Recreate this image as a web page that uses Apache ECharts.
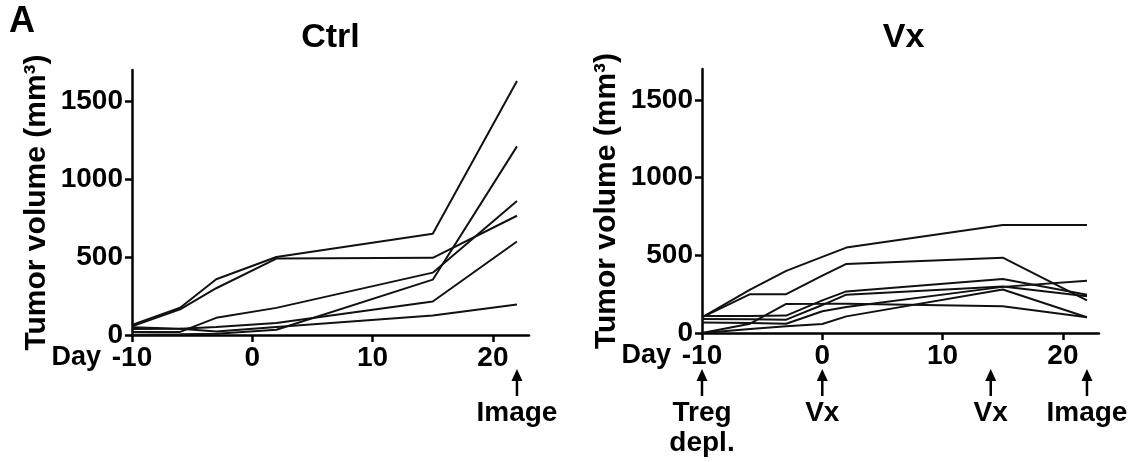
<!DOCTYPE html>
<html>
<head>
<meta charset="utf-8">
<script src="https://cdn.jsdelivr.net/npm/echarts@6/dist/echarts.min.js"></script>
<style>
html, body { margin: 0; padding: 0; background: #fff; }
#main { width: 1132px; height: 462px; }
</style>
</head>
<body>
<div id="main"></div>
<script>
// Ctrl group, one array per mouse
var ctrlDays = [-10, -6, -3, 2, 15, 22];
var ctrl1 = [65, 175, 358, 500, 650, 1630];
var ctrl2 = [55, 165, 300, 490, 495, 765];
var ctrl3 = [2, 5, 8, 34, 355, 1210];
var ctrl4 = [19, 20, 110, 174, 400, 860];
var ctrl5 = [39, 40, 51, 77, 215, 600];
var ctrl6 = [49, 40, 23, 51, 125, 195];

// Vx group
var vxDays = [-10, -6, -3, 0, 2, 15, 22];
var vx1 = [100, 280, 400, 490, 550, 696, 696];
var vx2 = [100, 250, 250, 370, 445, 485, 210];
var vx3 = [110, 110, 112, 210, 268, 348, 247];
var vx4 = [90, 88, 86, 180, 247, 300, 236];
var vx5 = [0, 60, 187, 188, 189, 172, 101];
var vx6 = [68, 64, 60, 140, 168, 297, 337];
var vx7 = [0, 25, 43, 58, 107, 280, 101];

var dayTicks = [-10, 0, 10, 20];
var volumeTicks = [0, 500, 1000, 1500];

var ctrlArrowDays = [22];
var ctrlArrowLabels = ['Image'];
var vxArrowDays = [-10, 0, 14, 22];
var vxArrowLabels = ['Treg\ndepl.', 'Vx', 'Vx', 'Image'];

var FONT = '"Liberation Sans", Arial, sans-serif';

function pairs(days, vals) {
	return days.map(function(d, i) { return [d, vals[i]]; });
}

function plain(v) { return String(v); }

function makeX(idx) {
	return {
		type: 'value', gridIndex: idx, min: -10, max: 23, interval: 10,
		name: 'Day', nameLocation: 'start', nameGap: 31,
		nameTextStyle: { color: '#000', fontFamily: FONT, fontWeight: 'bold', fontSize: 27, verticalAlign: 'top', padding: [9, 0, 0, 0] },
		axisLine: { onZero: false, lineStyle: { color: '#000', width: 2.5 } },
		axisTick: { length: 7, lineStyle: { width: 2.5, color: '#000' }, customValues: dayTicks },
		axisLabel: { color: '#000', fontFamily: FONT, fontWeight: 'bold', fontSize: 28, margin: 9, formatter: plain, customValues: dayTicks },
		splitLine: { show: false }
	};
}

function makeY(idx) {
	return {
		type: 'value', gridIndex: idx, min: 0, max: 1700, interval: 500,
		name: 'Tumor volume (mm³)', nameLocation: 'middle', nameRotate: 90, nameGap: 80,
		nameTextStyle: { color: '#000', fontFamily: FONT, fontWeight: 'bold', fontSize: 30 },
		axisLine: { show: true, onZero: false, lineStyle: { color: '#000', width: 2.5 } },
		axisTick: { show: true, length: 7, lineStyle: { width: 2.5, color: '#000' }, customValues: volumeTicks },
		axisLabel: { color: '#000', fontFamily: FONT, fontWeight: 'bold', fontSize: 28, margin: 9, formatter: plain, customValues: volumeTicks },
		splitLine: { show: false }
	};
}

function lineSeries(idx, days, vals) {
	return {
		type: 'line', xAxisIndex: idx, yAxisIndex: idx, data: pairs(days, vals),
		symbol: 'none', lineStyle: { color: '#111', width: 2 }, silent: true
	};
}

var series = [];
[ctrl1, ctrl2, ctrl3, ctrl4, ctrl5, ctrl6].forEach(function(v) { series.push(lineSeries(0, ctrlDays, v)); });
[vx1, vx2, vx3, vx4, vx5, vx6, vx7].forEach(function(v) { series.push(lineSeries(1, vxDays, v)); });

var chart = echarts.init(document.getElementById('main'), null, { renderer: 'canvas' });
chart.setOption({
	animation: false,
	grid: [
		{ left: 132, top: 70, width: 397, height: 265 },
		{ left: 702, top: 69, width: 397, height: 264 }
	],
	xAxis: [makeX(0), makeX(1)],
	yAxis: [makeY(0), makeY(1)],
	series: series
});

function txt(x, y, s, size, va) {
	return {
		type: 'text', x: x, y: y, silent: true,
		style: { text: s, fill: '#000', font: 'bold ' + size + 'px ' + FONT, align: 'center', verticalAlign: va || 'middle', textAlign: 'center', textVerticalAlign: va || 'middle', lineHeight: 30 }
	};
}

function arrows(idx, days, labels) {
	var out = [];
	days.forEach(function(d, i) {
		var x = chart.convertToPixel({ xAxisIndex: idx }, d);
		out.push({ type: 'line', silent: true, shape: { x1: x, y1: 378, x2: x, y2: 396 }, style: { stroke: '#000', lineWidth: 2.5 } });
		out.push({ type: 'polygon', silent: true, shape: { points: [[x, 369], [x - 5.5, 381], [x + 5.5, 381]] }, style: { fill: '#000' } });
		out.push(txt(x, 398, labels[i], 28, 'top'));
	});
	return out;
}

var c0 = chart.convertToPixel({ xAxisIndex: 0 }, 6.5);
var c1 = chart.convertToPixel({ xAxisIndex: 1 }, 6.5);
var g = [txt(22, 22, 'A', 36), txt(c0, 38, 'Ctrl', 34), txt(c1 + 3, 38, 'Vx', 34)];
g = g.concat(arrows(0, ctrlArrowDays, ctrlArrowLabels), arrows(1, vxArrowDays, vxArrowLabels));
chart.setOption({ graphic: g });
</script>
</body>
</html>
